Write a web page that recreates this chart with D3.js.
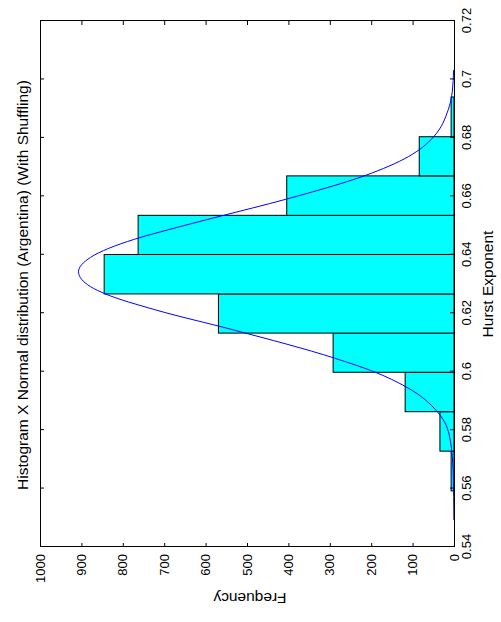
<!DOCTYPE html>
<html>
<head>
<meta charset="utf-8">
<script src="https://cdn.jsdelivr.net/npm/d3@7"></script>
<style>
html,body{margin:0;padding:0;background:#fff;}
svg{display:block;}
text{font-family:"Liberation Sans",Arial,Helvetica,sans-serif;fill:#000;}
</style>
</head>
<body>
<svg id="chart" width="501" height="622"></svg>
<script>
// ---- data ----
const binEdges = [0.5592, 0.5728, 0.5863, 0.5998, 0.6132, 0.6266, 0.6401, 0.6535, 0.6670, 0.6804, 0.6940];
const binCounts = [7, 34, 118, 292, 569, 845, 763, 404, 84, 7];

const curveHurst = [0.5492, 0.5652, 0.5766, 0.5846, 0.5949, 0.5998, 0.6046, 0.6143, 0.6211, 0.6266, 0.6291, 0.6342,
                    0.6391, 0.6453, 0.6485, 0.6530, 0.6590, 0.6671, 0.6736, 0.6768, 0.6804, 0.6896, 0.6960, 0.7032];
const curveFreq  = [0.3, 2, 9, 31, 117, 190, 288, 533, 720, 842, 878, 907,
                    878, 772, 692, 570, 406, 215, 110, 76, 49, 14, 4, 1];

const hurstTicks = [0.54, 0.56, 0.58, 0.60, 0.62, 0.64, 0.66, 0.68, 0.70, 0.72];
const hurstTickLabels = ["0.54", "0.56", "0.58", "0.6", "0.62", "0.64", "0.66", "0.68", "0.7", "0.72"];
const freqTicks = [0, 100, 200, 300, 400, 500, 600, 700, 800, 900, 1000];
const freqTickLabels = ["0", "100", "200", "300", "400", "500", "600", "700", "800", "900", "1000"];

const titleText = "Histogram X Normal distribution (Argentina) (With Shuffling)";
const xLabelText = "Hurst Exponent";
const yLabelText = "Frequency";

// ---- layout (drawn in the un-rotated orientation, then turned by -90°) ----
const svg = d3.select("#chart");
const W0 = 622, H0 = 501;
const plot = {left: 75, right: 601, top: 40, bottom: 454};

const g = svg.append("g").attr("transform", `translate(0,${W0}) rotate(-90)`);

const x = d3.scaleLinear().domain([0.54, 0.72]).range([plot.left, plot.right]);
const y = d3.scaleLinear().domain([0, 1000]).range([plot.bottom, plot.top]);

// bars
const bins = binCounts.map((c, i) => ({x0: binEdges[i], x1: binEdges[i + 1], c}));
g.append("g").selectAll("rect").data(bins).join("rect")
  .attr("x", d => x(d.x0))
  .attr("width", d => x(d.x1) - x(d.x0))
  .attr("y", d => y(d.c))
  .attr("height", d => y(0) - y(d.c))
  .attr("fill", "#00ffff")
  .attr("stroke", "#000")
  .attr("stroke-width", 1);

// normal curve
const pts = curveHurst.map((h, i) => ({h, f: curveFreq[i]}));
g.append("path").datum(pts)
  .attr("fill", "none")
  .attr("stroke", "#0000ff")
  .attr("stroke-width", 1)
  .attr("d", d3.line().x(d => x(d.h)).y(d => y(d.f)).curve(d3.curveMonotoneX));

// axes
const fontTick = "13px";
const ax = g.append("g").attr("transform", `translate(0,${plot.bottom})`)
  .call(d3.axisBottom(x).tickValues(hurstTicks).tickFormat((d, i) => hurstTickLabels[i])
        .tickSizeInner(-4).tickSizeOuter(0).tickPadding(8));
const ay = g.append("g").attr("transform", `translate(${plot.left},0)`)
  .call(d3.axisLeft(y).tickValues(freqTicks).tickFormat((d, i) => freqTickLabels[i])
        .tickSizeInner(-4).tickSizeOuter(0).tickPadding(7));
const axT = g.append("g").attr("transform", `translate(0,${plot.top})`)
  .call(d3.axisTop(x).tickValues(hurstTicks).tickFormat("").tickSizeInner(-4).tickSizeOuter(0));
const ayR = g.append("g").attr("transform", `translate(${plot.right},0)`)
  .call(d3.axisRight(y).tickValues(freqTicks).tickFormat("").tickSizeInner(-4).tickSizeOuter(0));

[ax, ay, axT, ayR].forEach(a => {
  a.select(".domain").remove();
  a.selectAll(".tick line").attr("stroke", "#000");
  a.selectAll("text").style("font-size", fontTick).attr("fill", "#000")
    .style("font-family", '"Liberation Sans",Arial,Helvetica,sans-serif');
});

// box
g.append("rect")
  .attr("x", plot.left + 0.5).attr("y", plot.top + 0.5)
  .attr("width", plot.right - plot.left).attr("height", plot.bottom - plot.top)
  .attr("fill", "none").attr("stroke", "#000").attr("stroke-width", 1);

// labels
g.append("text").attr("x", (plot.left + plot.right) / 2 - 1).attr("y", 28)
  .attr("text-anchor", "middle").style("font-size", "15.5px").text(titleText);
g.append("text").attr("x", (plot.left + plot.right) / 2).attr("y", 493)
  .attr("text-anchor", "middle").style("font-size", "15.5px").text(xLabelText);
g.append("text").attr("transform", `translate(29,${(plot.top + plot.bottom) / 2 + 3}) rotate(-90)`)
  .attr("text-anchor", "middle").style("font-size", "15.5px").text(yLabelText);
</script>
</body>
</html>
